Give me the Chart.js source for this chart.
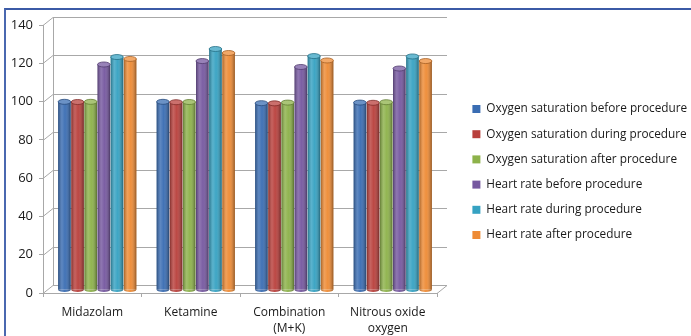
<!DOCTYPE html>
<html>
<head>
<meta charset="utf-8">
<script src="https://cdn.jsdelivr.net/npm/chart.js@4.4.1/dist/chart.umd.min.js"></script>
<style>
  html, body { margin: 0; padding: 0; background: #fff; }
  #wrap { position: relative; width: 691px; height: 336px; overflow: hidden; }
  #frame { position: absolute; left: 4px; top: 8px; width: 700px; height: 340px;
           border-top: 2px solid #3b5aa6; border-left: 2px solid #4a68b0; }
  canvas { position: absolute; left: 0; top: 0; }
</style>
</head>
<body>
<div id="wrap">
  <div id="frame"></div>
  <canvas id="chart" width="691" height="336"></canvas>
</div>
<script>
// Values (3D Excel column chart).
const categories = ["Midazolam", "Ketamine", ["Combination", "(M+K)"], ["Nitrous oxide", "oxygen"]];
const yTicks = [0, 20, 40, 60, 80, 100, 120, 140];

const o2Before = [98.3, 98.3, 97.6, 97.9];
const o2During = [98.2, 98.1, 97.5, 97.8];
const o2After = [98.3, 98.2, 97.9, 98.1];
const hrBefore = [117.8, 119.6, 116.5, 115.7];
const hrDuring = [121.7, 125.9, 122.2, 122.0];
const hrAfter = [120.7, 123.8, 119.9, 119.6];

const seriesNames = [
  "Oxygen saturation before procedure",
  "Oxygen saturation during procedure",
  "Oxygen saturation after procedure",
  "Heart rate before procedure",
  "Heart rate during procedure",
  "Heart rate after procedure",
];
const seriesData = [o2Before, o2During, o2After, hrBefore, hrDuring, hrAfter];
const seriesColors = ["#3a6db3", "#b9403c", "#8db24a", "#7658a0", "#36a2c2", "#ee8b35"];

// depth of the fake 3D box
const DX = 10, DY = 8;

function shade(hex, amt) {
  const n = parseInt(hex.slice(1), 16);
  const c = [n >> 16, (n >> 8) & 255, n & 255].map(v =>
    Math.max(0, Math.min(255, Math.round(amt > 0 ? v + (255 - v) * amt : v * (1 + amt)))));
  return `rgb(${c[0]},${c[1]},${c[2]})`;
}

const depth = {
  id: "depth",
  beforeDatasetsDraw(chart) {
    const { ctx, chartArea: { left, right, top, bottom }, scales: { y } } = chart;
    ctx.save();
    ctx.strokeStyle = "#a8a8a8";
    ctx.lineWidth = 1;
    y.ticks.forEach(t => {
      const py = Math.round(y.getPixelForValue(t.value)) + 0.5;
      ctx.beginPath();
      ctx.moveTo(left, py);
      ctx.lineTo(left + DX, py - DY);
      ctx.lineTo(right + DX, py - DY);
      ctx.stroke();
    });
    ctx.beginPath();
    ctx.moveTo(left + DX + 0.5, top - DY);
    ctx.lineTo(left + DX + 0.5, bottom - DY);
    ctx.stroke();
    ctx.beginPath();
    ctx.moveTo(right, bottom + 0.5);
    ctx.lineTo(right + DX, bottom - DY + 0.5);
    ctx.stroke();
    ctx.restore();
    // columns sit in the middle of the depth
    ctx.save();
    ctx.translate(DX / 2, -3);
  },
  afterDatasetsDraw(chart) {
    const { ctx } = chart;
    chart.data.datasets.forEach((ds, di) => {
      const meta = chart.getDatasetMeta(di);
      const col = seriesColors[di];
      meta.data.forEach(bar => {
        const { x, y, base, width } = bar.getProps(["x", "y", "base", "width"], true);
        const l = x - width / 2, r = x + width / 2, ry = 2.5;
        const g = ctx.createLinearGradient(l, 0, r, 0);
        g.addColorStop(0, "rgba(0,0,0,0.30)");
        g.addColorStop(0.3, "rgba(255,255,255,0.18)");
        g.addColorStop(0.55, "rgba(255,255,255,0.04)");
        g.addColorStop(1, "rgba(0,0,0,0.38)");
        // bottom half-ellipse
        ctx.beginPath();
        ctx.ellipse(x, base, width / 2, ry, 0, 0, Math.PI);
        ctx.fillStyle = col;
        ctx.fill();
        ctx.fillStyle = g;
        ctx.fill();
        ctx.fillStyle = g;
        ctx.fillRect(l, y, width, base - y);
        // top cap
        ctx.beginPath();
        ctx.ellipse(x, y, width / 2, ry, 0, 0, Math.PI * 2);
        ctx.fillStyle = shade(col, 0.25);
        ctx.fill();
        ctx.strokeStyle = shade(col, -0.3);
        ctx.lineWidth = 0.8;
        ctx.stroke();
      });
    });
    ctx.restore();
  },
};

const font = { family: "'Open Sans', 'Noto Sans', sans-serif", size: 12 };

new Chart(document.getElementById("chart"), {
  type: "bar",
  data: {
    labels: categories,
    datasets: seriesNames.map((name, i) => ({
      label: name,
      data: seriesData[i],
      backgroundColor: seriesColors[i],
      borderWidth: 0,
      categoryPercentage: 0.8,
      barPercentage: 0.96,
    })),
  },
  options: {
    responsive: false,
    devicePixelRatio: 1,
    animation: false,
    layout: { padding: { top: 8, left: 9, right: 0, bottom: 0 } },
    plugins: {
      legend: {
        position: "right",
        maxWidth: 232,
        labels: { boxWidth: 8, boxHeight: 8, padding: 13.4, color: "#1a1a1a", font: { ...font, size: 11.8 } },
      },
      tooltip: { enabled: false },
    },
    scales: {
      x: {
        grid: { display: true, drawOnChartArea: false, tickLength: 4, color: "#a8a8a8" },
        border: { display: true, color: "#a8a8a8" },
        ticks: { color: "#1a1a1a", font: { ...font, lineHeight: 1.35 }, padding: 7, maxRotation: 0 },
        afterFit: s => { s.height = 43; },
      },
      xTop: {
        position: "top",
        display: true,
        grid: { display: false },
        border: { display: false },
        ticks: { display: false },
        afterFit: s => { s.height = 17; },
      },
      y: {
        min: 0,
        max: 140,
        afterBuildTicks: s => { s.ticks = yTicks.map(v => ({ value: v })); },
        grid: { display: true, drawOnChartArea: false, tickLength: 4, color: "#a8a8a8" },
        border: { display: true, color: "#a8a8a8" },
        ticks: { color: "#1a1a1a", font: { ...font, size: 13 }, padding: 6 },
        afterFit: s => { s.width = 34; },
      },
      yPad: {
        position: "right",
        display: true,
        grid: { display: false },
        border: { display: false },
        ticks: { display: false },
        afterFit: s => { s.width = 22; },
      },
    },
  },
  plugins: [depth],
});
</script>
</body>
</html>
